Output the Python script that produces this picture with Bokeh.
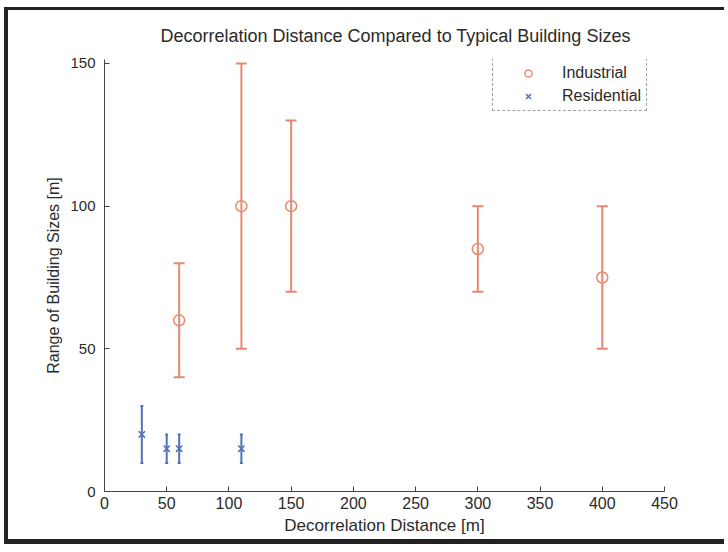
from bokeh.plotting import figure
from bokeh.models import (ColumnDataSource, Whisker, TeeHead, Legend, LegendItem,
                          FixedTicker)
from bokeh.embed import file_html
from bokeh.resources import INLINE

# Industrial sites: decorrelation distance and building-size range
ind_dist = [60, 110, 150, 300, 400]
ind_mid = [60, 100, 100, 85, 75]
ind_low = [40, 50, 70, 70, 50]
ind_high = [80, 150, 130, 100, 100]

# Residential sites
res_dist = [30, 50, 60, 110]
res_mid = [20, 15, 15, 15]
res_low = [10, 10, 10, 10]
res_high = [30, 20, 20, 20]

x_ticks = [0, 50, 100, 150, 200, 250, 300, 350, 400, 450]
y_ticks = [0, 50, 100, 150]

IND_COLOR = "#e88871"
RES_COLOR = "#5272b4"
FONT = "Liberation Sans"
TEXT_COLOR = "#2a2a2a"

p = figure(width=720, height=537, output_backend="svg", toolbar_location=None,
           x_range=(0, 450), y_range=(0, 151.4),
           title="Decorrelation Distance Compared to Typical Building Sizes",
           min_border_left=96, min_border_right=64,
           min_border_top=48, min_border_bottom=56)
# dark frame around the page
p.styles = {"border-left": "4px solid #222222", "border-top": "3px solid #222222",
            "border-bottom": "5px solid #222222", "margin-left": "4px",
            "margin-top": "7px"}
p.outline_line_color = None
p.grid.visible = False
p.background_fill_color = "white"
p.border_fill_color = "white"

p.title.align = "left"
p.title.offset = 56
p.title.text_font = FONT
p.title.text_font_size = "18px"
p.title.text_font_style = "normal"
p.title.text_color = TEXT_COLOR
p.title.text_line_height = 0.9
p.title.standoff = 27

for ax in (p.xaxis[0], p.yaxis[0]):
    ax.axis_line_color = "#444444"
    ax.major_tick_line_color = "#444444"
    ax.major_tick_in = 5
    ax.major_tick_out = 0
    ax.minor_tick_line_color = None
    ax.major_label_text_font = FONT
    ax.major_label_text_color = TEXT_COLOR
    ax.axis_label_text_font = FONT
    ax.axis_label_text_font_style = "normal"
    ax.axis_label_text_color = TEXT_COLOR

p.xaxis.major_label_text_font_size = "16px"
p.yaxis.major_label_text_font_size = "15px"
p.xaxis.axis_label_text_font_size = "17px"
p.yaxis.axis_label_text_font_size = "16px"
p.xaxis.ticker = FixedTicker(ticks=x_ticks)
p.yaxis.ticker = FixedTicker(ticks=y_ticks)
p.xaxis.axis_label = "Decorrelation Distance [m]"
p.yaxis.axis_label = "Range of Building Sizes [m]"
p.xaxis.major_label_standoff = 5
p.yaxis.major_label_standoff = 9
p.xaxis.axis_label_standoff = 4
p.yaxis.axis_label_standoff = 5

ind_src = ColumnDataSource(dict(x=ind_dist, y=ind_mid, lo=ind_low, hi=ind_high))
res_src = ColumnDataSource(dict(x=res_dist, y=res_mid, lo=res_low, hi=res_high))

ind_err = Whisker(source=ind_src, base="x", lower="lo", upper="hi",
                  line_color=IND_COLOR, line_width=2,
                  lower_head=TeeHead(size=11, line_color=IND_COLOR, line_width=2),
                  upper_head=TeeHead(size=11, line_color=IND_COLOR, line_width=2))
res_err = Whisker(source=res_src, base="x", lower="lo", upper="hi",
                  line_color=RES_COLOR, line_width=2,
                  lower_head=TeeHead(size=3, line_color=RES_COLOR, line_width=2),
                  upper_head=TeeHead(size=3, line_color=RES_COLOR, line_width=2))
p.add_layout(ind_err)
p.add_layout(res_err)

ind_r = p.scatter("x", "y", source=ind_src, marker="circle", size=11,
                  fill_color=None, line_color=IND_COLOR, line_width=1.5)
res_r = p.scatter("x", "y", source=res_src, marker="x", size=9,
                  line_color=RES_COLOR, line_width=1.5)

legend = Legend(items=[LegendItem(label="Industrial", renderers=[ind_r]),
                       LegendItem(label="Residential", renderers=[res_r])],
                location=(388, 380), padding=5, margin=0, spacing=5,
                glyph_width=60, glyph_height=18, label_height=18,
                label_standoff=4, label_text_font=FONT,
                label_text_font_size="16px", label_text_color=TEXT_COLOR,
                border_line_color="#444444", border_line_dash="3 2",
                border_line_width=1, background_fill_alpha=1)
p.add_layout(legend)

open("out.html", "w").write(file_html(p, INLINE))
